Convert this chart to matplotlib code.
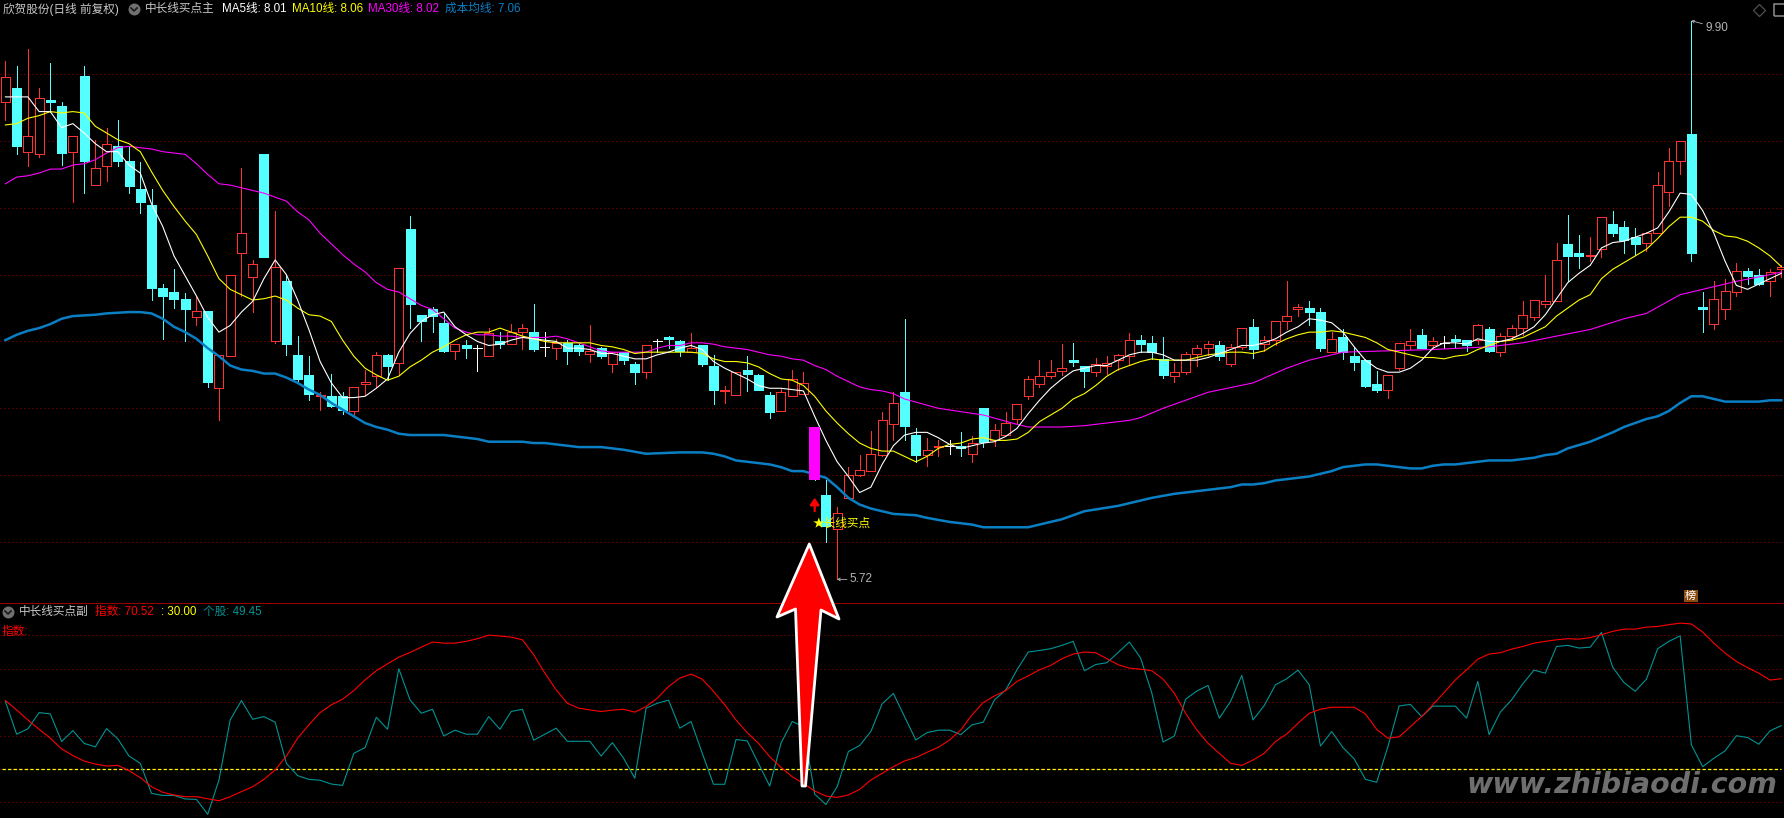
import matplotlib
matplotlib.use("Agg")
import matplotlib.pyplot as plt
from matplotlib.patches import Polygon, Rectangle
from matplotlib.lines import Line2D

W, H = 1784, 818
PANEL_Y = 603.3  # pixel row of the line between both panels

plt.rcParams['font.family'] = ['Liberation Sans', 'Noto Sans CJK SC', 'DejaVu Sans']
plt.rcParams['lines.scale_dashes'] = False

# daily prices, one entry per candle
opens = [9.29,9.40,8.92,8.90,9.31,9.26,8.92,9.49,8.67,8.81,8.96,8.85,8.64,8.52,7.90,7.87,7.82,7.68,7.73,7.15,
         7.39,8.16,7.98,8.90,7.50,7.95,7.40,7.25,7.09,7.09,7.09,6.98,7.18,7.24,7.40,7.34,8.34,7.70,7.74,7.64,
         7.43,7.47,7.45,7.39,7.50,7.48,7.57,7.57,7.46,7.45,7.49,7.47,7.41,7.45,7.33,7.42,7.33,7.27,7.50,7.53,
         7.50,7.42,7.47,7.32,7.13,7.10,7.29,7.25,7.10,6.98,7.09,7.11,6.86,6.35,6.10,6.33,6.50,6.53,6.65,6.88,
         7.12,6.80,6.65,6.71,6.72,6.72,6.66,7.00,6.76,6.80,6.92,7.09,7.18,7.24,7.28,7.36,7.32,7.27,7.32,7.36,
         7.39,7.51,7.49,7.37,7.24,7.27,7.41,7.45,7.47,7.33,7.46,7.61,7.48,7.51,7.65,7.74,7.75,7.72,7.42,7.53,
         7.39,7.36,7.18,7.14,7.30,7.47,7.55,7.47,7.49,7.52,7.51,7.51,7.59,7.42,7.54,7.60,7.68,7.78,7.80,8.23,
         8.16,8.14,8.19,8.38,8.36,8.28,8.24,8.31,8.62,8.85,9.05,7.76,7.63,7.74,7.87,8.03,8.00,7.95,8.04]
highs = [9.60,9.56,9.69,9.40,9.58,9.29,9.04,9.56,9.01,9.10,9.16,8.96,8.84,8.64,7.93,8.04,7.86,7.84,7.73,7.40,
         8.00,8.80,8.11,8.90,8.48,8.00,7.54,7.39,7.12,7.26,7.12,7.16,7.29,7.42,7.41,8.05,8.44,7.70,7.76,7.71,
         7.48,7.51,7.47,7.60,7.57,7.63,7.63,7.78,7.57,7.52,7.51,7.49,7.62,7.46,7.42,7.42,7.35,7.47,7.52,7.54,
         7.51,7.56,7.47,7.40,7.17,7.27,7.39,7.26,7.12,7.15,7.29,7.27,6.86,6.46,6.26,6.56,6.65,6.83,6.97,7.12,
         7.67,6.85,6.78,6.76,6.76,6.82,6.79,7.00,6.88,6.97,7.03,7.24,7.36,7.36,7.48,7.49,7.32,7.38,7.39,7.41,
         7.56,7.55,7.54,7.53,7.34,7.42,7.47,7.50,7.50,7.48,7.60,7.67,7.54,7.65,7.95,7.78,7.80,7.75,7.57,7.59,
         7.46,7.37,7.28,7.25,7.49,7.59,7.59,7.53,7.54,7.55,7.51,7.63,7.61,7.56,7.62,7.80,7.81,8.00,8.24,8.45,
         8.30,8.28,8.43,8.48,8.40,8.35,8.32,8.77,8.95,9.00,9.90,7.87,7.95,7.97,8.09,8.05,8.04,8.04,8.07]
lows = [9.16,8.90,8.81,8.88,9.22,8.82,8.54,8.61,8.67,8.70,8.81,8.61,8.46,7.81,7.52,7.75,7.50,7.62,7.16,6.91,
        7.39,7.84,7.72,8.13,7.49,7.40,7.20,7.06,6.99,7.01,6.96,6.95,7.10,7.16,7.21,7.25,7.60,7.50,7.57,7.42,
        7.37,7.38,7.28,7.39,7.45,7.48,7.44,7.43,7.39,7.37,7.33,7.40,7.35,7.38,7.27,7.33,7.18,7.23,7.42,7.45,
        7.39,7.42,7.32,7.03,7.04,7.10,7.13,7.14,6.93,6.98,7.09,7.11,6.46,6.00,5.72,6.33,6.49,6.53,6.64,6.76,
        6.76,6.60,6.57,6.64,6.66,6.64,6.60,6.71,6.72,6.80,6.88,7.07,7.16,7.23,7.25,7.32,7.16,7.24,7.26,7.29,
        7.33,7.42,7.37,7.23,7.20,7.26,7.32,7.40,7.36,7.32,7.44,7.38,7.43,7.47,7.59,7.69,7.62,7.43,7.42,7.37,
        7.29,7.16,7.12,7.08,7.29,7.44,7.45,7.45,7.45,7.46,7.43,7.48,7.42,7.39,7.52,7.55,7.66,7.76,7.80,7.95,
        8.05,8.10,8.13,8.29,8.16,8.15,8.18,8.31,8.51,8.75,8.10,7.57,7.59,7.67,7.84,7.93,7.92,7.84,7.98]
closes = [9.48,8.96,9.04,9.32,9.29,8.91,9.04,8.85,8.80,8.98,8.85,8.66,8.54,7.90,7.84,7.82,7.74,7.73,7.20,7.40,
          8.00,8.31,8.08,8.13,8.06,7.48,7.22,7.11,7.10,7.02,6.99,7.16,7.20,7.40,7.32,8.05,7.78,7.65,7.69,7.43,
          7.48,7.45,7.45,7.56,7.48,7.57,7.60,7.44,7.46,7.49,7.43,7.43,7.43,7.39,7.42,7.36,7.27,7.47,7.50,7.52,
          7.43,7.45,7.33,7.14,7.14,7.27,7.26,7.14,6.97,7.12,7.22,7.19,6.46,6.12,6.22,6.50,6.54,6.66,6.91,7.04,
          6.87,6.65,6.69,6.72,6.72,6.70,6.74,6.75,6.84,6.89,7.03,7.22,7.24,7.27,7.30,7.35,7.28,7.33,7.34,7.40,
          7.51,7.48,7.42,7.25,7.27,7.41,7.45,7.48,7.39,7.46,7.60,7.44,7.51,7.65,7.69,7.76,7.72,7.45,7.52,7.42,
          7.35,7.17,7.14,7.25,7.49,7.50,7.45,7.50,7.49,7.50,7.47,7.62,7.43,7.54,7.60,7.70,7.81,7.80,8.11,8.14,
          8.14,8.15,8.43,8.31,8.26,8.23,8.31,8.67,8.85,9.00,8.16,7.74,7.82,7.88,8.03,7.99,7.93,8.02,8.06]

# moving averages
ma5 = [9.33,9.33,9.33,9.22,9.22,9.10,9.13,9.06,8.98,8.92,8.92,8.82,8.76,8.53,8.36,8.14,7.99,7.84,7.68,7.57,
       7.62,7.72,7.80,7.97,8.11,8.00,7.81,7.59,7.35,7.19,7.08,7.08,7.09,7.15,7.22,7.42,7.56,7.65,7.70,7.72,
       7.61,7.55,7.50,7.47,7.48,7.51,7.53,7.52,7.51,7.50,7.45,7.45,7.44,7.41,7.41,7.39,7.37,7.37,7.40,7.42,
       7.45,7.47,7.44,7.35,7.30,7.26,7.22,7.17,7.15,7.15,7.14,7.13,6.94,6.76,6.60,6.49,6.37,6.41,6.58,6.72,
       6.80,6.82,6.82,6.78,6.73,6.70,6.72,6.74,6.75,6.79,6.85,6.96,7.06,7.15,7.22,7.28,7.30,7.32,7.32,7.36,
       7.40,7.42,7.42,7.40,7.36,7.36,7.36,7.38,7.41,7.44,7.47,7.47,7.49,7.52,7.57,7.61,7.67,7.66,7.64,7.57,
       7.46,7.36,7.30,7.27,7.27,7.30,7.36,7.45,7.49,7.49,7.48,7.52,7.50,7.50,7.52,7.56,7.61,7.70,7.82,7.94,
       8.01,8.07,8.20,8.24,8.25,8.28,8.31,8.35,8.47,8.61,8.60,8.48,8.31,8.10,7.92,7.89,7.93,7.97,8.01]
ma10 = [9.12,9.13,9.17,9.19,9.22,9.21,9.22,9.21,9.11,9.06,9.01,8.98,8.92,8.77,8.63,8.51,8.40,8.30,8.14,7.97,
        7.89,7.85,7.81,7.82,7.84,7.81,7.75,7.70,7.69,7.65,7.51,7.39,7.30,7.25,7.21,7.24,7.31,7.36,7.42,7.46,
        7.51,7.55,7.57,7.57,7.60,7.57,7.54,7.52,7.50,7.49,7.49,7.49,7.49,7.47,7.46,7.44,7.41,7.42,7.42,7.42,
        7.42,7.42,7.41,7.37,7.35,7.35,7.34,7.31,7.26,7.22,7.21,7.17,7.09,6.98,6.89,6.81,6.74,6.70,6.68,6.68,
        6.64,6.60,6.64,6.70,6.73,6.74,6.77,6.78,6.76,6.76,6.77,6.82,6.90,6.95,7.00,7.07,7.11,7.17,7.24,7.29,
        7.32,7.35,7.37,7.36,7.36,7.36,7.38,7.40,7.41,7.42,7.42,7.41,7.43,7.48,7.52,7.55,7.57,7.57,7.58,7.57,
        7.55,7.53,7.49,7.44,7.42,7.40,7.38,7.38,7.37,7.39,7.40,7.44,7.47,7.50,7.51,7.53,7.57,7.61,7.69,7.75,
        7.81,7.85,7.97,8.04,8.09,8.14,8.19,8.27,8.36,8.43,8.43,8.40,8.33,8.29,8.28,8.25,8.20,8.14,8.06]
ma30_idx = list(range(0, 81)) + [83,87,90,91,94,96,97,100,101,103,105,107,111,114,116,119,127,132,135,138,141,144,146,149,151,154,157,158]
ma30 = [8.68,8.73,8.74,8.76,8.79,8.79,8.82,8.83,8.86,8.91,8.95,8.96,8.95,8.94,8.92,8.91,8.90,8.83,8.75,8.68,
        8.67,8.65,8.63,8.61,8.58,8.55,8.47,8.41,8.31,8.23,8.15,8.08,8.02,7.94,7.89,7.87,7.82,7.77,7.74,7.67,
        7.60,7.57,7.55,7.55,7.54,7.54,7.53,7.53,7.53,7.54,7.52,7.49,7.46,7.43,7.42,7.42,7.42,7.42,7.45,7.47,
        7.47,7.49,7.49,7.48,7.46,7.45,7.44,7.42,7.40,7.39,7.37,7.36,7.32,7.29,7.24,7.20,7.16,7.14,7.13,7.11,
        7.07,7.00,6.95,6.88,6.86,6.86,6.87,6.88,6.91,6.93,7.00,7.06,7.12,7.19,7.30,7.36,7.42,7.44,7.46,7.49,
        7.54,7.59,7.67,7.71,7.85,7.89,7.95,8.00,8.02]
cost_idx = [0,1,2,3,4,5,6,8,9,11,12,13,14,15,16,17,18,19,20,21,22,23,24,25,26,27,28,29,30,31,32,33,34,35,36,39,40,41,42,43,
            46,47,48,49,50,51,52,53,55,57,60,62,63,64,65,67,68,69,70,71,73,74,75,76,77,78,79,81,82,84,86,87,91,92,94,96,99,102,104,105,
            106,107,108,109,110,111,112,113,114,115,116,117,118,119,120,121,122,123,124,125,126,127,128,129,130,131,132,133,134,135,136,
            137,138,139,141,143,144,146,147,148,149,150,151,152,153,156,157,158]
cost = [7.51,7.55,7.58,7.60,7.63,7.67,7.69,7.70,7.71,7.72,7.72,7.71,7.67,7.61,7.57,7.52,7.45,7.39,7.32,7.29,7.28,7.26,7.26,7.23,7.19,7.14,7.10,7.04,6.99,6.94,6.89,6.86,6.84,6.81,6.80,6.80,6.79,6.78,6.77,6.75,
        6.75,6.74,6.74,6.73,6.72,6.71,6.71,6.71,6.69,6.66,6.67,6.67,6.66,6.64,6.61,6.59,6.58,6.56,6.53,6.53,6.48,6.41,6.33,6.28,6.25,6.23,6.21,6.20,6.18,6.15,6.13,6.11,6.11,6.13,6.17,6.23,6.27,6.33,6.36,6.37,
        6.38,6.39,6.40,6.41,6.43,6.43,6.44,6.46,6.47,6.48,6.49,6.51,6.53,6.56,6.57,6.58,6.58,6.57,6.56,6.55,6.55,6.57,6.58,6.58,6.59,6.60,6.61,6.61,6.61,6.62,6.63,
        6.65,6.66,6.70,6.75,6.82,6.86,6.92,6.94,6.98,7.04,7.09,7.09,7.07,7.05,7.05,7.06,7.06]

# lower panel
index_line = [60.7,56.5,52.0,47.8,43.8,39.0,36.0,33.5,32.2,31.3,31.6,29.2,26.1,22.0,19.5,18.3,17.5,17.5,16.6,15.7,
              17.5,19.8,22.0,25.3,29.5,35.8,43.8,49.8,55.3,58.8,61.3,65.2,70.0,74.1,77.2,80.2,82.3,84.7,87.0,86.5,
              86.5,87.3,88.5,90.1,89.7,89.2,88.0,81.3,73.0,65.5,59.5,57.3,56.5,55.8,56.4,56.8,55.5,58.0,61.8,67.0,
              70.8,72.6,70.3,64.8,58.8,52.0,46.3,41.5,35.5,30.7,26.5,23.5,20.1,17.8,17.2,18.3,20.8,25.0,28.0,31.0,
              33.6,35.1,37.5,39.7,43.0,47.5,54.3,59.8,62.8,65.2,69.3,71.8,74.5,76.5,79.5,81.6,82.5,82.2,79.5,76.8,
              75.3,74.8,74.1,70.3,64.0,55.0,47.5,41.5,37.0,32.5,31.6,34.0,37.0,42.3,45.7,50.5,55.0,56.8,57.7,57.7,
              57.7,54.7,47.8,43.8,44.4,49.0,53.5,58.8,64.3,70.0,74.5,79.3,81.6,82.2,83.8,85.0,86.5,87.3,88.0,88.5,
              88.3,89.0,90.3,91.8,92.8,92.8,93.7,94.0,94.8,95.5,95.1,91.5,86.5,82.0,78.3,75.5,73.0,69.9,70.52]
stock_line = [60.3,45.6,48.0,55.3,54.7,42.3,47.2,41.5,39.9,48.1,43.5,35.8,32.5,19.0,18.1,18.1,16.5,16.3,9.6,25.0,
              52.0,60.7,52.3,53.5,51.0,32.5,27.0,25.3,24.9,23.2,22.6,37.0,39.6,53.2,47.8,75.0,61.0,55.0,56.8,44.8,
              47.4,45.6,45.6,53.5,47.8,55.8,56.8,42.9,45.6,48.3,42.4,42.4,42.4,35.8,41.8,34.8,25.8,57.3,59.5,60.9,
              48.3,51.3,37.0,23.1,23.1,43.2,42.6,32.5,22.3,41.5,51.3,49.0,18.7,14.0,22.0,37.8,40.5,46.8,59.2,63.9,
              53.5,43.0,46.3,47.4,47.4,45.4,49.8,51.0,61.0,65.5,74.5,82.5,83.2,84.0,85.5,87.3,74.1,76.9,77.7,82.3,
              87.0,79.8,64.0,42.1,44.8,61.3,65.0,67.5,52.8,60.3,72.0,52.0,58.5,67.8,70.5,74.4,67.8,40.3,46.8,39.6,
              34.5,25.3,24.0,40.0,58.3,59.0,53.5,58.2,58.2,58.2,52.8,69.3,45.4,55.5,61.0,68.2,74.4,73.0,85.0,85.5,
              84.3,84.7,91.3,75.7,68.8,64.9,70.3,84.0,87.3,89.8,40.8,31.0,34.8,38.1,44.9,44.1,41.1,47.1,49.45]
ref_level = 30.0

price_grid = [6.0, 6.5, 7.0, 7.5, 8.0, 8.5, 9.0, 9.5]
osc_grid = [15, 30, 45, 60, 75, 90]

signal_day = 72
signal_top = 6.86
signal_bottom = 6.46

RED = '#ff3232'
CYAN = '#54ffff'
GRID = '#a00000'
BLUE = '#0a7fc4'
TEAL = '#009494'
DOTS = (0, (0.72, 2.16))
THIN = 0.8

fig = plt.figure(figsize=(W / 100, H / 100), dpi=100, facecolor='black')
ax = fig.add_axes([0, (H - PANEL_Y) / H, 1, PANEL_Y / H], facecolor='black')
ax2 = fig.add_axes([0, 0, 1, (H - PANEL_Y) / H], facecolor='black')

for a in (ax, ax2):
    a.set_xlim(-0.48, 158.24)
    a.set_xticks([])
    a.set_yticks([])
    for s in a.spines.values():
        s.set_visible(False)
ax.set_ylim(5.541, 10.055)
ax2.set_ylim(7.95, 104.4)

ax.hlines(price_grid, -0.48, 158.24, color=GRID, lw=0.72, linestyle=DOTS, zorder=0.5)
ax2.hlines(osc_grid, -0.48, 158.24, color=GRID, lw=0.72, linestyle=DOTS, zorder=0.5)
ax2.axhline(104.4, color=GRID, lw=1.4, zorder=4)

# candles: wick first, the body covers it
days = list(range(len(opens)))
colors = [RED if c > o else ('white' if c == o else CYAN) for o, c in zip(opens, closes)]
ax.vlines(days, lows, highs, colors=colors, lw=0.72, antialiaseds=False, zorder=1)
for d, o, c, col in zip(days, opens, closes, colors):
    if d == signal_day:  # this one is painted as the magenta stick below
        continue
    bottom = min(o, c)
    height = abs(c - o)
    face = 'black' if col == RED else col
    ax.bar(d, height, 0.8, bottom, facecolor=face, edgecolor=col, lw=0.72, antialiased=False, zorder=2)

ax.plot(cost_idx, cost, color=BLUE, lw=1.8, zorder=3)
ax.plot(ma30_idx, ma30, color='#ff00ff', lw=THIN, zorder=3)
ax.plot(days, ma10, color='#ffff00', lw=THIN, zorder=3)
ax.plot(days, ma5, color='white', lw=THIN, zorder=3)

# buy signal
ax.bar(signal_day, signal_top - signal_bottom, 1.0, signal_bottom, color='#ff00ff', lw=0, antialiased=False, zorder=4)
ax.annotate('', xy=(signal_day, 6.33), xytext=(signal_day, 6.23),
            arrowprops=dict(arrowstyle='-|>,head_width=0.28,head_length=0.4', color='#ff0000', lw=1.6, shrinkA=0, shrinkB=0), zorder=4)
ax.text(signal_day - 0.15, 6.14, '★长线买点', color='#ffff00', fontsize=8.4, va='center', ha='left', zorder=5)

# extreme price labels
ax.annotate('9.90', xy=(150, 9.90), xytext=(10, -5), textcoords='offset points', color='#b4b4b4', fontsize=8.5,
            va='center', arrowprops=dict(arrowstyle='->,head_width=0.12,head_length=0.2', color='#b4b4b4', lw=0.6, shrinkA=0, shrinkB=0))
ax.annotate('5.72', xy=(74, 5.72), xytext=(9, 0), textcoords='offset points', color='#b4b4b4', fontsize=8.5,
            va='center', arrowprops=dict(arrowstyle='->,head_width=0.12,head_length=0.2', color='#b4b4b4', lw=0.6, shrinkA=0, shrinkB=0))

ax2.hlines(ref_level, -0.3, 158, color='#ffff00', lw=0.9, linestyle=(0, (2.4, 1.6)), zorder=2)
ax2.plot(days, stock_line, color=TEAL, lw=THIN, zorder=3)
ax2.plot(days, index_line, color='#ff0000', lw=THIN, zorder=3)


def label(x, y, s, color, size=8.4, **kw):
    fig.text(x / W, 1 - y / H, s, color=color, fontsize=size, va='center', ha='left', zorder=10, **kw)


def fig_xy(points):
    return [(x / W, 1 - y / H) for x, y in points]


def menu_icon(x, y):
    fig.add_artist(Line2D([x / W], [1 - y / H], marker='o', ms=8.6, color='#707070', mew=0))
    fig.add_artist(Line2D([(x - 3) / W, x / W, (x + 3) / W], [1 - (y - 1) / H, 1 - (y + 2) / H, 1 - (y - 1) / H],
                          color='#1a1a1a', lw=1.2))


# header of upper panel
label(3, 9, '欣贺股份(日线 前复权)', '#c8c8c8')
menu_icon(134, 9)
label(145, 9, '中长线买点主', '#c8c8c8')
label(222, 9, 'MA5线: 8.01', 'white')
label(292, 9, 'MA10线: 8.06', '#ffff00')
label(368.5, 9, 'MA30线: 8.02', '#ff00ff')
label(445, 9, '成本均线: 7.06', BLUE)

# corner icons
fig.add_artist(Line2D([1759 / W], [1 - 10 / H], marker='D', ms=6.5, mfc='none', mec='#505050', mew=0.9))
fig.add_artist(Rectangle((1773.5 / W, 1 - 15.5 / H), 12 / W, 11 / H, fc='none', ec='#8c8c8c', lw=1.1, transform=fig.transFigure))

# header of lower panel
menu_icon(8, 612)
label(18.5, 612, '中长线买点副', '#c8c8c8')
label(95, 612, '指数: 70.52', '#ff0000')
label(161, 612, ': 30.00', '#ffff00')
label(203, 612, '个股: 49.45', TEAL)
label(2, 632, '指数:', '#ff0000')

# small badge above the panel line
fig.text(1690.7 / W, 1 - 596 / H, '榜', color='white', fontsize=8, ha='center', va='center',
         bbox=dict(facecolor='#8a4a10', edgecolor='none', pad=1.0), zorder=10)

# big hand drawn arrow over both panels
arrow = fig_xy([(809.3, 544), (839, 619), (821, 610), (805.5, 786), (802, 786), (795.5, 609), (777, 617)])
fig.add_artist(Polygon(arrow, closed=True, facecolor='#ff0000', edgecolor='white', lw=2.0, joinstyle='round',
                       transform=fig.transFigure, zorder=20))

# site watermark
fig.text(1467 / W, 1 - 785 / H, 'www.zhibiaodi.com', color='#6e6e6e', fontsize=20.5, fontfamily='DejaVu Sans',
         fontstyle='oblique', fontweight='bold', va='center', ha='left', zorder=15)

fig.savefig('out.png', dpi=100, facecolor='black')
plt.close()
